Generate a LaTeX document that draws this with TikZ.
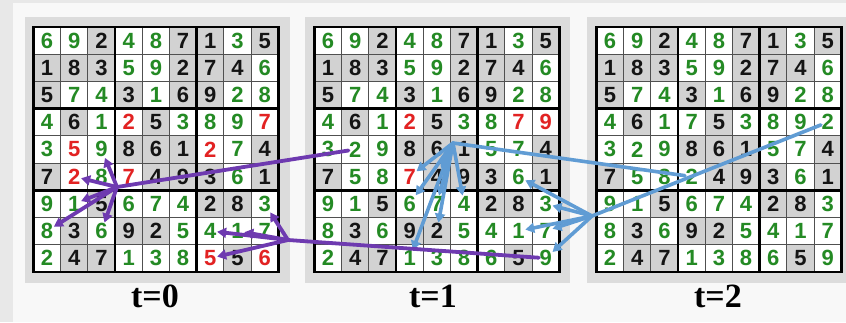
\documentclass[tikz,border=0pt]{standalone}
\usepackage{fontspec}
\setmainfont{Liberation Serif}
\newfontfamily\digitfont{Liberation Sans}
\usetikzlibrary{arrows.meta}
\definecolor{cg}{RGB}{36,138,36}
\definecolor{ck}{RGB}{20,20,20}
\definecolor{cr}{RGB}{226,34,34}
\definecolor{bgk}{RGB}{210,210,210}
\definecolor{bgg}{RGB}{255,255,255}
\definecolor{bgr}{RGB}{255,255,255}
\definecolor{panelgray}{RGB}{220,220,220}
\definecolor{bgwhite}{RGB}{248,248,248}
\definecolor{edgegray}{RGB}{232,232,232}
\definecolor{thingray}{RGB}{80,80,80}
\definecolor{purp}{RGB}{110,58,176}
\definecolor{blu}{RGB}{96,156,212}
\def\cellsz{27.2}
\def\yo{27}
\newcommand\drawsud[3]{%
  \foreach \rowdata [count=\ri] in {#3} {
    \foreach \dg/\cl [count=\ci] in \rowdata {
      \fill[bg\cl] ({#2+(\ci-1)*\cellsz},{\yo+(\ri-1)*\cellsz}) rectangle +(\cellsz,\cellsz);
      \node[sdigit,text=c\cl] (g#1-\ri-\ci) at ({#2+(\ci-0.5)*\cellsz},{\yo+(\ri-0.5)*\cellsz}) {\dg};
    }
  }
  \foreach \i in {1,2,4,5,7,8} {
    \draw[thinline] ({#2+\i*\cellsz},\yo) -- ++(0,{9*\cellsz});
    \draw[thinline] (#2,{\yo+\i*\cellsz}) -- ++({9*\cellsz},0);
  }
  \foreach \i in {0,3,6,9} {
    \draw[thickline] ({#2+\i*\cellsz},\yo) -- ++(0,{9*\cellsz});
    \draw[thickline] (#2,{\yo+\i*\cellsz}) -- ++({9*\cellsz},0);
  }
}
\begin{document}
\begin{tikzpicture}[x=1pt,y=-1pt,
  sdigit/.style={font=\digitfont\bfseries\fontsize{22}{22}\selectfont,inner sep=0.5pt},
  thinline/.style={draw=thingray,line width=1pt},
  thickline/.style={draw=black,line width=2.6pt,line cap=rect},
  lbl/.style={font=\bfseries\fontsize{34}{34}\selectfont,anchor=base,inner sep=0pt},
  purpline/.style={draw=purp,line width=3.8pt,line cap=round},
  purparrow/.style={purpline,-{Triangle[length=9pt,width=10pt]}},
  bluline/.style={draw=blu,line width=3.6pt,line cap=round},
  bluarrow/.style={bluline,-{Triangle[length=9pt,width=10pt]}}]
\useasboundingbox (0,0) rectangle (846,322);
\fill[edgegray] (0,0) rectangle (846,322);
\fill[bgwhite] (13,3) rectangle (846,322);
\fill[panelgray] (25,17) rectangle (290,283);
\fill[panelgray] (305,17) rectangle (570,283);
\fill[panelgray] (587,17) rectangle (846,283);

\drawsud{0}{33.5}{
 {6/g,9/g,2/k,4/g,8/g,7/k,1/k,3/g,5/k},
 {1/k,8/k,3/k,5/g,9/g,2/k,7/k,4/k,6/g},
 {5/k,7/g,4/g,3/k,1/g,6/k,9/k,2/g,8/g},
 {4/g,6/k,1/g,2/r,5/k,3/g,8/g,9/g,7/r},
 {3/g,5/r,9/g,8/k,6/k,1/k,2/r,7/g,4/k},
 {7/k,2/r,8/g,7/r,4/k,9/k,3/k,6/g,1/k},
 {9/g,1/g,5/k,6/g,7/g,4/g,2/k,8/k,3/g},
 {8/g,3/k,6/g,9/k,2/k,5/g,4/g,1/g,7/g},
 {2/g,4/k,7/k,1/g,3/g,8/g,5/r,5/k,6/r}}
\drawsud{1}{314.5}{
 {6/g,9/g,2/k,4/g,8/g,7/k,1/k,3/g,5/k},
 {1/k,8/k,3/k,5/g,9/g,2/k,7/k,4/k,6/g},
 {5/k,7/g,4/g,3/k,1/g,6/k,9/k,2/g,8/g},
 {4/g,6/k,1/g,2/r,5/k,3/g,8/g,7/r,9/r},
 {3/g,2/g,9/g,8/k,6/k,1/k,5/g,7/g,4/k},
 {7/k,5/g,8/g,7/r,4/k,9/k,3/k,6/g,1/k},
 {9/g,1/g,5/k,6/g,7/g,4/g,2/k,8/k,3/g},
 {8/g,3/k,6/g,9/k,2/k,5/g,4/g,1/g,7/g},
 {2/g,4/k,7/k,1/g,3/g,8/g,6/g,5/k,9/g}}
\drawsud{2}{596.5}{
 {6/g,9/g,2/k,4/g,8/g,7/k,1/k,3/g,5/k},
 {1/k,8/k,3/k,5/g,9/g,2/k,7/k,4/k,6/g},
 {5/k,7/g,4/g,3/k,1/g,6/k,9/k,2/g,8/g},
 {4/g,6/k,1/g,7/g,5/k,3/g,8/g,9/g,2/g},
 {3/g,2/g,9/g,8/k,6/k,1/k,5/g,7/g,4/k},
 {7/k,5/g,8/g,2/g,4/k,9/k,3/k,6/g,1/k},
 {9/g,1/g,5/k,6/g,7/g,4/g,2/k,8/k,3/g},
 {8/g,3/k,6/g,9/k,2/k,5/g,4/g,1/g,7/g},
 {2/g,4/k,7/k,1/g,3/g,8/g,6/g,5/k,9/g}}

\node[lbl] (l0) at (155,307) {t=0};
\node[lbl] (l1) at (433,307) {t=1};
\node[lbl] (l2) at (718,307) {t=2};

% blue connectors (t=2 -> t=1)
\coordinate (hb1) at (453,143);
\coordinate (hb2) at (592,216);
\draw[bluline] (g2-6-4) -- (hb1);
\foreach \tg in {6-4,6-5,7-4,7-5,7-6,8-5,9-4}
  \draw[bluarrow] (hb1) -- (g1-\tg);
\draw[bluline] (g2-4-9) -- (hb2);
\foreach \tg in {6-8,7-9,8-8,8-9,9-9}
  \draw[bluarrow] (hb2) -- (g1-\tg);

% purple connectors (t=1 -> t=0)
\coordinate (hp1) at (117,187);
\coordinate (hp2) at (288,240);
\draw[purpline] (g1-5-2) -- (hp1);
\foreach \tg in {5-3,6-2,7-2,8-1,8-3}
  \draw[purparrow] (hp1) -- (g0-\tg);
\draw[purpline] (g1-9-9) -- (hp2);
\foreach \tg in {7-9,8-7,8-8,9-7}
  \draw[purparrow] (hp2) -- (g0-\tg);
\end{tikzpicture}
\end{document}
